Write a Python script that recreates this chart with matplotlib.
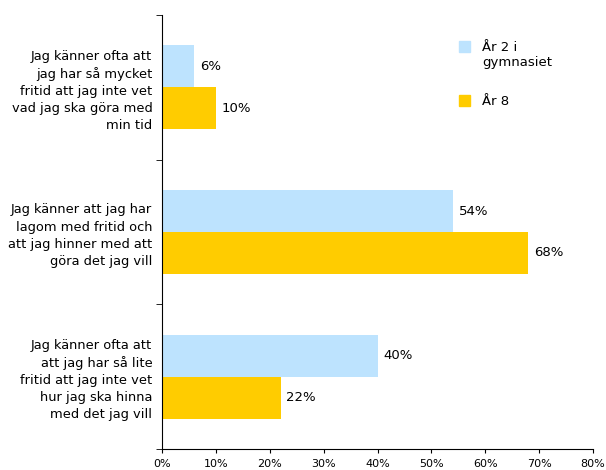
import numpy as np
import matplotlib.pyplot as plt
from matplotlib.patches import Rectangle
from matplotlib.ticker import FixedLocator, PercentFormatter

# Data
categories = ['Jag känner ofta att\njag har så mycket\nfritid att jag inte vet\nvad jag ska göra med\nmin tid',
              'Jag känner att jag har\nlagom med fritid och\natt jag hinner med att\ngöra det jag vill',
              'Jag känner ofta att\natt jag har så lite\nfritid att jag inte vet\nhur jag ska hinna\nmed det jag vill']
series_names = ['År 2 i\ngymnasiet', 'År 8']
gymnasiet = [6, 54, 40]
ar8 = [10, 68, 22]
colors = ['#BDE3FE', '#FFCC00']
x_ticks = [0, 10, 20, 30, 40, 50, 60, 70, 80]

plt.rcParams['font.family'] = ['DejaVu Sans']

fig = plt.figure(figsize=(6.06, 4.70), dpi=100)
ax = fig.add_axes([162 / 606, 1 - 449 / 470, (593 - 162) / 606, (449 - 15) / 470])

y = np.arange(len(categories))
h = 0.29
b1 = ax.barh(y - h / 2, gymnasiet, height=h, color=colors[0])
b2 = ax.barh(y + h / 2, ar8, height=h, color=colors[1])
ax.bar_label(b1, labels=[f'{v}%' for v in gymnasiet], padding=4, fontsize=9.5)
ax.bar_label(b2, labels=[f'{v}%' for v in ar8], padding=4, fontsize=9.5)

ax.set_ylim(2.5, -0.5)
ax.set_xlim(0, 80)
ax.set_yticks(y)
ax.set_yticklabels(categories, fontsize=9.4, linespacing=1.4)
ax.tick_params(axis='y', which='major', length=0, pad=7)
ax.yaxis.set_minor_locator(FixedLocator([-0.5, 0.5, 1.5, 2.5]))
ax.tick_params(axis='y', which='minor', length=4, direction='out')
ax.set_xticks(x_ticks)
ax.xaxis.set_major_formatter(PercentFormatter(decimals=0))
ax.tick_params(axis='x', labelsize=8, length=3, direction='out', pad=4)

for s in ['top', 'right']:
    ax.spines[s].set_visible(False)

# legend drawn by hand to keep the square on the first text line
for i, (name, c) in enumerate(zip(series_names, colors)):
    yy = 1 - (47 + i * 54) / 470
    fig.patches.append(Rectangle((459 / 606, yy - 5 / 470), 11 / 606, 11 / 470,
                                 transform=fig.transFigure, color=c))
    fig.text(482 / 606, yy + 6 / 470, name, fontsize=9.5, va='top', ha='left', linespacing=1.2)

fig.savefig('out.png', dpi=100)
